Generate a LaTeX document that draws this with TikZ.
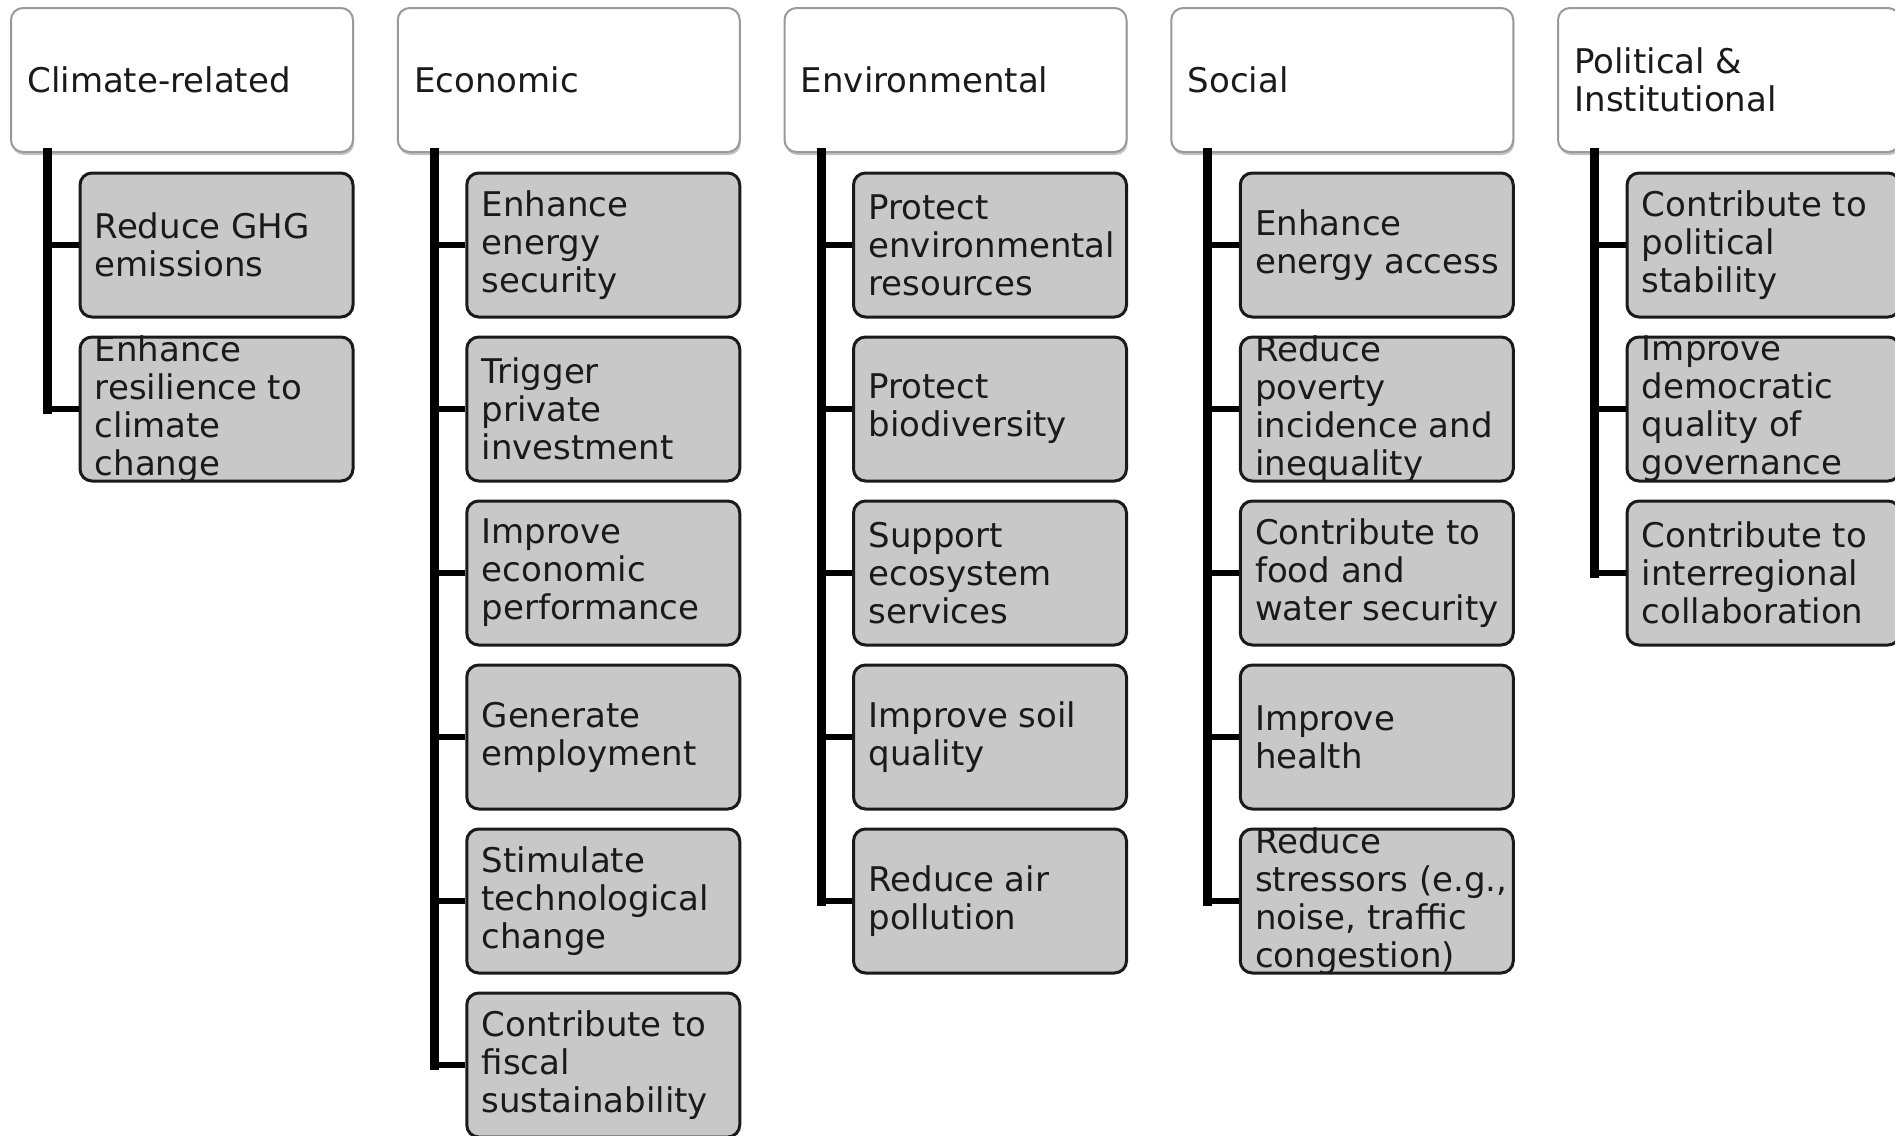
\documentclass[tikz,border=0pt]{standalone}
\usepackage{fontspec}
\setmainfont{DejaVu Sans}
\usetikzlibrary{shadows}
\definecolor{txtcol}{HTML}{1A1A1A}
\definecolor{childfill}{HTML}{C8C8C8}
\definecolor{childdraw}{HTML}{1A1A1A}
\definecolor{headdraw}{HTML}{9A9A9A}
\begin{document}
\begin{tikzpicture}[x=0.5pt,y=-0.5pt,
  headbox/.style={draw=headdraw,line width=1pt,fill=white,rounded corners=6pt,
    minimum width=171pt,minimum height=72pt,inner sep=0pt,
    drop shadow={shadow xshift=0.5pt,shadow yshift=-1.5pt,opacity=0.35,fill=black!70}},
  childbox/.style={draw=childdraw,line width=1.5pt,fill=childfill,rounded corners=6pt,
    minimum width=136.5pt,minimum height=72pt,inner sep=0pt},
  txt/.style={anchor=west,align=left,inner sep=0pt,text=txtcol,
    font=\fontsize{17pt}{19pt}\selectfont},
  hbar/.style={line width=3pt,black},
  vbar/.style={line width=4.5pt,black,line cap=rect}]
\useasboundingbox (0,0) rectangle (1895,1135);
\clip (0,0) rectangle (1895,1135);
\newcommand\mkcol[5]{%
  \node[headbox] (h#1) at (#2+171,80) {};
  \node[txt] (ht#1) at ([xshift=8.5pt]h#1.west) {#3};
  \coordinate (b#1) at (#2+36.5,152);
  \foreach \t [count=\j from 0] in {#4} {
    \node[childbox] (c#1-\j) at (#2+205.5,245+164*\j) {};
    \node[txt] (ct#1-\j) at ([xshift=8pt]c#1-\j.west) {\t};
    \draw[hbar] (b#1 |- c#1-\j.west) -- (c#1-\j.west);
  }
  \draw[vbar] (b#1) -- (b#1 |- c#1-#5.west);
}
\mkcol{0}{11}{Climate-related}{{Reduce GHG\\emissions},{Enhance\\resilience to\\climate\\change}}{1}
\mkcol{1}{397.75}{Economic}{{Enhance\\energy\\security},{Trigger\\private\\investment},{Improve\\economic\\performance},{Generate\\employment},{Stimulate\\technological\\change},{Contribute to\\fiscal\\sustainability}}{5}
\mkcol{2}{784.5}{Environmental}{{Protect\\environmental\\resources},{Protect\\biodiversity},{Support\\ecosystem\\services},{Improve soil\\quality},{Reduce air\\pollution}}{4}
\mkcol{3}{1171.25}{Social}{{Enhance\\energy access},{Reduce\\poverty\\incidence and\\inequality},{Contribute to\\food and\\water security},{Improve\\health},{Reduce\\stressors (e.g.,\\noise, traffic\\congestion)}}{4}
\mkcol{4}{1558}{Political \&\\Institutional}{{Contribute to\\political\\stability},{Improve\\democratic\\quality of\\governance},{Contribute to\\interregional\\collaboration}}{2}
\end{tikzpicture}
\end{document}
